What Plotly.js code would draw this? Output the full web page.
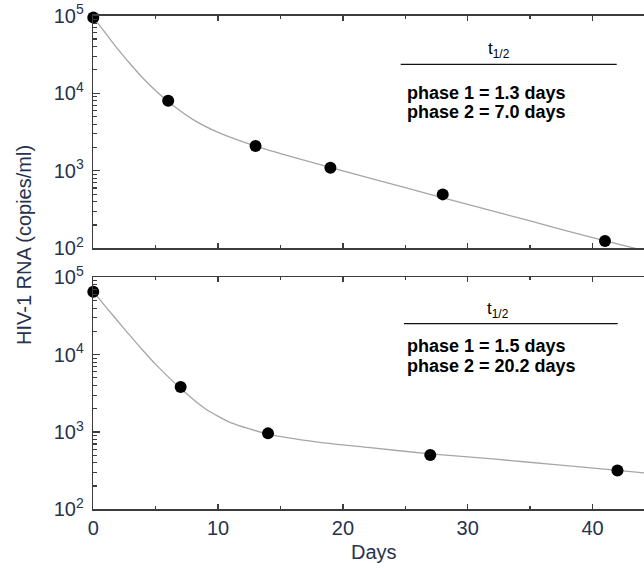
<!DOCTYPE html>
<html>
<head>
<meta charset="utf-8">
<script src="https://cdn.plot.ly/plotly-3.0.1.min.js"></script>
<style>html,body{margin:0;padding:0;background:#fff;}#chart{width:644px;height:568px;}</style>
</head>
<body>
<div id="chart"></div>
<script>
// Measured patient data (days, HIV-1 RNA copies/ml)
const days1 = [0, 6, 13, 19, 28, 41];
const rna1 = [95000, 8000, 2080, 1090, 496, 124];
const days2 = [0, 7, 14, 27, 42];
const rna2 = [65200, 3810, 959, 502, 318];

// Fitted curves
const fitDays1 = [0, 1, 2, 3, 4, 6, 8, 10, 13, 16, 20, 25, 30, 35, 40, 44.3];
const fit1 = [95000, 59000, 36500, 23500, 15500, 7800, 4560, 3120, 2080, 1500, 1000, 605, 369, 225, 137, 92];
const fitDays2 = [0, 1, 2, 3, 4, 5, 7, 9, 11, 14, 18, 22, 27, 32, 37, 42, 44.3];
const fit2 = [65200, 41560, 26620, 17190, 11240, 7475, 3650, 1985, 1317, 940, 741, 631, 520, 448, 378, 318, 294];

// Tick labels
const yTickVals = [100, 1000, 10000, 100000];
const yTickText = ['10<sup>2</sup>', '10<sup>3</sup>', '10<sup>4</sup>', '10<sup>5</sup>'];
const xTickVals = [0, 10, 20, 30, 40];
const xTickText = ['0', '10', '20', '30', '40'];

// Half-life annotations
const halfLabel = 't<sub>1/2</sub>';
const phases1 = ['phase 1 = 1.3 days', 'phase 2 = 7.0 days'];
const phases2 = ['phase 1 = 1.5 days', 'phase 2 = 20.2 days'];

const W = 644, H = 568;
const px = v => v / W;
const py = v => 1 - v / H;

const axisCol = '#3c3c3c';
const textCol = '#27324f';
const font = 'Liberation Sans, Arial, Helvetica, sans-serif';

const fitStyle = {color: '#a6a6a6', width: 1.3, shape: 'spline', smoothing: 0.6};
const markerStyle = {color: '#000', size: 12};

const traces = [
  {x: fitDays1, y: fit1, mode: 'lines', line: fitStyle, xaxis: 'x', yaxis: 'y', hoverinfo: 'skip'},
  {x: days1, y: rna1, mode: 'markers', marker: markerStyle, xaxis: 'x', yaxis: 'y', cliponaxis: false},
  {x: fitDays2, y: fit2, mode: 'lines', line: fitStyle, xaxis: 'x2', yaxis: 'y2', hoverinfo: 'skip'},
  {x: days2, y: rna2, mode: 'markers', marker: markerStyle, xaxis: 'x2', yaxis: 'y2', cliponaxis: false}
];

const xRange = [0, (W - 93.3) / 12.48];
const xBase = {
  domain: [px(93.3), 1], range: xRange, showgrid: false, zeroline: false,
  showline: true, linecolor: axisCol, linewidth: 1.5, mirror: 'ticks',
  ticks: 'inside', ticklen: 5, tickwidth: 1.3, tickcolor: axisCol,
  tickmode: 'array', tickvals: xTickVals, ticktext: xTickText,
  minor: {ticks: 'inside', dtick: 5, tick0: 0, ticklen: 3, tickwidth: 1.2, tickcolor: axisCol, showgrid: false},
  tickfont: {family: font, size: 20, color: textCol}, automargin: false, fixedrange: true
};
const yBase = {
  type: 'log', range: [2, 5], showgrid: false, zeroline: false,
  showline: true, linecolor: axisCol, linewidth: 1.5, mirror: false,
  ticks: 'inside', ticklen: 7, tickwidth: 1.3, tickcolor: axisCol,
  tickmode: 'array', tickvals: yTickVals, ticktext: yTickText,
  minor: {ticks: 'inside', dtick: 'D1', ticklen: 4, tickwidth: 1.1, tickcolor: axisCol, showgrid: false},
  tickfont: {family: font, size: 20, color: textCol}, automargin: false, fixedrange: true, ticklabelstandoff: 4
};

function phaseAnn(list, yTop, gap) {
  return list.map((t, i) => ({
    text: t, xref: 'paper', yref: 'paper', x: px(405), y: py(yTop + i * gap),
    xanchor: 'left', yanchor: 'middle', showarrow: false,
    font: {family: font, size: 18, color: '#000', weight: 'bold'}
  }));
}

const layout = {
  width: W, height: H,
  margin: {l: 0, r: 0, t: 0, b: 0},
  paper_bgcolor: '#fff', plot_bgcolor: '#fff',
  showlegend: false,
  xaxis: Object.assign({}, xBase, {anchor: 'y', showticklabels: false}),
  yaxis: Object.assign({}, yBase, {domain: [py(248.3), py(15.7)], anchor: 'x'}),
  xaxis2: Object.assign({}, xBase, {anchor: 'y2', showticklabels: true}),
  yaxis2: Object.assign({}, yBase, {domain: [py(509.3), py(277.3)], anchor: 'x2'}),
  shapes: [
    {type: 'line', xref: 'paper', yref: 'paper', x0: px(400.7), x1: px(616.7), y0: py(64.3), y1: py(64.3), line: {color: '#111', width: 1.3}},
    {type: 'line', xref: 'paper', yref: 'paper', x0: px(404), x1: px(617.7), y0: py(323.7), y1: py(323.7), line: {color: '#111', width: 1.3}}
  ],
  annotations: [
    {text: halfLabel, xref: 'paper', yref: 'paper', x: px(499), y: py(50), xanchor: 'center', yanchor: 'middle', showarrow: false, font: {family: font, size: 17, color: '#000'}},
    {text: halfLabel, xref: 'paper', yref: 'paper', x: px(498), y: py(310), xanchor: 'center', yanchor: 'middle', showarrow: false, font: {family: font, size: 17, color: '#000'}},
    ...phaseAnn(phases1, 93.5, 18),
    ...phaseAnn(phases2, 346, 20.5),
    {text: 'HIV-1 RNA (copies/ml)', xref: 'paper', yref: 'paper', x: px(24), y: py(245), textangle: -90, xanchor: 'center', yanchor: 'middle', showarrow: false, font: {family: font, size: 20, color: textCol}},
    {text: 'Days', xref: 'paper', yref: 'paper', x: px(374), y: py(552), xanchor: 'center', yanchor: 'middle', showarrow: false, font: {family: font, size: 20, color: textCol}}
  ]
};

Plotly.newPlot('chart', traces, layout, {displayModeBar: false, staticPlot: true});
</script>
</body>
</html>
